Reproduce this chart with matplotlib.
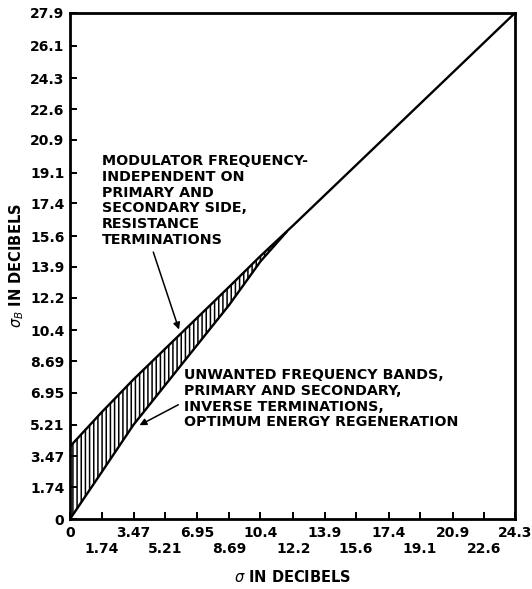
import numpy as np
import matplotlib.pyplot as plt

plt.rcParams['font.family'] = ['DejaVu Sans']
plt.rcParams['hatch.linewidth'] = 1.1

# curve readings (sigma in dB, a_B in dB)
sigma_upper = [0, 1.74, 3.47, 5.21, 6.95, 8.69, 10.4, 12.2, 24.3]
aB_upper = [4.0, 5.9, 7.7, 9.4, 11.1, 12.8, 14.5, 16.2, 27.9]

sigma_lower = [0, 1.74, 3.47, 5.21, 6.95, 8.69, 10.4, 11.8]
aB_lower = [0, 2.6, 5.2, 7.4, 9.6, 11.8, 14.2, 15.8]

x_ticks = [0, 1.74, 3.47, 5.21, 6.95, 8.69, 10.4, 12.2, 13.9, 15.6, 17.4, 19.1, 20.9, 22.6, 24.3]
y_ticks = [0, 1.74, 3.47, 5.21, 6.95, 8.69, 10.4, 12.2, 13.9, 15.6, 17.4, 19.1, 20.9, 22.6, 24.3, 26.1, 27.9]

label_upper = "MODULATOR FREQUENCY-\nINDEPENDENT ON\nPRIMARY AND\nSECONDARY SIDE,\nRESISTANCE\nTERMINATIONS"
label_lower = "UNWANTED FREQUENCY BANDS,\nPRIMARY AND SECONDARY,\nINVERSE TERMINATIONS,\nOPTIMUM ENERGY REGENERATION"

fig = plt.figure(figsize=(5.32, 5.89), dpi=100)
ax = fig.add_axes([0.1316, 0.1188, 0.8364, 0.8592])

# hatched band between the two curves
xs = np.array(sigma_lower)
up_on_lower = np.interp(xs, sigma_upper, aB_upper)
ax.fill_between(xs, aB_lower, up_on_lower, facecolor='none', edgecolor='black',
                hatch='||||', linewidth=0)

ax.plot(sigma_upper, aB_upper, color='black', lw=1.7)
ax.plot(sigma_lower, aB_lower, color='black', lw=1.7)

ax.set_xlim(0, 24.3)
ax.set_ylim(0, 27.9)

ax.set_xticks(x_ticks)
ax.set_xticklabels([f"{t:g}" if i % 2 == 0 else f"\n{t:g}" for i, t in enumerate(x_ticks)],
                   fontsize=10, fontweight='bold', linespacing=1.2)
ax.set_yticks(y_ticks)
ax.set_yticklabels([f"{t:g}" for t in y_ticks], fontsize=10, fontweight='bold')
ax.tick_params(axis='both', direction='in', length=5, width=1.4)
ax.tick_params(axis='x', pad=5)
ax.tick_params(axis='y', pad=4)

for s in ax.spines.values():
    s.set_linewidth(2)

ax.set_xlabel(r"$\sigma$ IN DECIBELS", fontsize=10.5, fontweight='bold', labelpad=9)
ax.set_ylabel(r"$\sigma_B$ IN DECIBELS", fontsize=10.5, fontweight='bold', labelpad=3)

ax.annotate(label_upper, xy=(6.0, 10.3), xytext=(1.75, 20.1),
            fontsize=10.3, fontweight='bold', va='top', ha='left', linespacing=1.15,
            arrowprops=dict(arrowstyle='-|>', color='black', lw=1.1,
                            mutation_scale=10, relpos=(0.24, 0.0)))
ax.annotate(label_lower, xy=(3.66, 5.1), xytext=(6.2, 8.3),
            fontsize=10.3, fontweight='bold', va='top', ha='left', linespacing=1.15,
            arrowprops=dict(arrowstyle='-|>', color='black', lw=1.1,
                            mutation_scale=10, relpos=(0.0, 0.45)))

fig.savefig("out.png", dpi=100)
